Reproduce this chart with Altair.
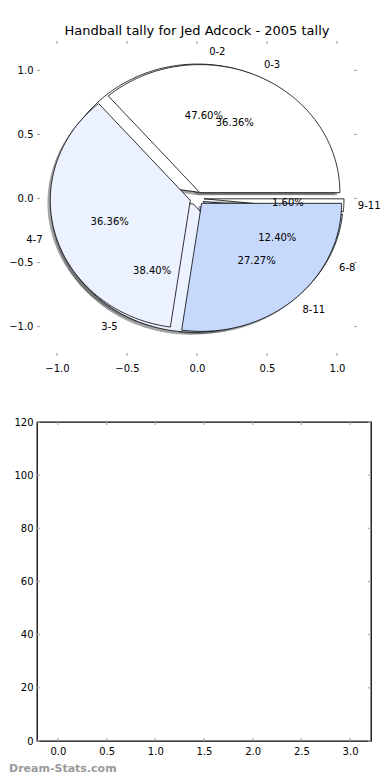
import numpy as np
import pandas as pd
import altair as alt

# ---------------- data ----------------
title_text = "Handball tally for Jed Adcock - 2005 tally"
pie1_labels = ["0-2", "3-5", "6-8", "9-11"]
pie1_values = [47.60, 38.40, 12.40, 1.60]
pie2_labels = ["0-3", "4-7", "8-11"]
pie2_values = [36.36, 36.36, 27.27]
pie_colors = ["#FFFFFF", "#EBF1FD", "#C6D9FD"]
pie_ticks = [-1.0, -0.5, 0.0, 0.5, 1.0]
bar_x_ticks = [0.0, 0.5, 1.0, 1.5, 2.0, 2.5, 3.0]
bar_y_ticks = [0, 20, 40, 60, 80, 100, 120]
watermark = "Dream-Stats.com"

EXPLODE = 0.05
SHADOW = -0.02
FONT = "DejaVu Sans"


def darken(hexc):
    h = hexc.lstrip("#")
    r, g, b = (int(h[i:i + 2], 16) for i in (0, 2, 4))
    return "#%02x%02x%02x" % (int(r * 0.3), int(g * 0.3), int(b * 0.3))


def build_pie(name, labels, values):
    vals = np.asarray(values, dtype=float)
    fr = vals / vals.sum()
    rows, shadows, texts = [], [], []
    t0 = 0.0
    for k, (lab, f) in enumerate(zip(labels, fr)):
        t1 = t0 + 360.0 * f
        tm = np.deg2rad((t0 + t1) / 2)
        cx, cy = EXPLODE * np.cos(tm), EXPLODE * np.sin(tm)
        col = pie_colors[k % len(pie_colors)]
        n = max(3, int((t1 - t0) / 1.0) + 2)
        ang = np.deg2rad(np.linspace(t0, t1, n))
        xs = np.concatenate([[cx], cx + np.cos(ang), [cx]])
        ys = np.concatenate([[cy], cy + np.sin(ang), [cy]])
        key = f"{name}-{k}"
        for i, (xx, yy) in enumerate(zip(xs, ys)):
            rows.append(dict(key=key, i=i, x=xx, y=yy, fillc=col))
            shadows.append(dict(key=key, i=i, x=xx + SHADOW, y=yy + SHADOW,
                                fillc=darken(col)))
        xt = cx + 1.1 * np.cos(tm)
        yt = cy + 1.1 * np.sin(tm)
        texts.append(dict(kind="label", text=lab, x=xt, y=yt,
                          side="left" if xt > 0 else "right"))
        texts.append(dict(kind="pct", text="%.2f%%" % (100 * f),
                          x=cx + 0.6 * np.cos(tm), y=cy + 0.6 * np.sin(tm),
                          side="center"))
        t0 = t1
    return pd.DataFrame(rows), pd.DataFrame(shadows), pd.DataFrame(texts)


w1, s1, t1 = build_pie("p1", pie1_labels, pie1_values)
w2, s2, t2 = build_pie("p2", pie2_labels, pie2_values)
shadows = pd.concat([s1, s2], ignore_index=True)
texts = pd.concat([t1, t2], ignore_index=True)

W1, H1 = 320, 315
W2, H2 = 334, 319
TICK = "#aaaaaa"
XH = W1 / 2 / 140.0  # keep 140 px per unit horizontally

xs = alt.Scale(domain=[-XH, XH], nice=False, zero=False)
ys = alt.Scale(domain=[-1.23, 1.23], nice=False, zero=False)
x_axis = alt.Axis(values=pie_ticks, format=".1f", ticks=False, domain=False,
                  grid=False, labelPadding=7, labelFont=FONT, labelFontSize=10,
                  labelColor="black", title=None)
y_axis = alt.Axis(values=pie_ticks, format=".1f", ticks=False, domain=False,
                  grid=False, labelPadding=4, labelFont=FONT, labelFontSize=10,
                  labelColor="black", title=None)


def wedges(df, with_stroke=True, opacity=1.0):
    if with_stroke:
        m = alt.Chart(df).mark_line(stroke="black", strokeWidth=0.8,
                                    fillOpacity=opacity, interpolate="linear")
    else:
        m = alt.Chart(df).mark_line(strokeWidth=0.0, fillOpacity=opacity,
                                    interpolate="linear")
    return m.encode(
        x=alt.X("x:Q", scale=xs, axis=x_axis),
        y=alt.Y("y:Q", scale=ys, axis=y_axis),
        fill=alt.Fill("fillc:N", scale=None),
        detail="key:N",
        order="i:Q",
    )


shadow_layer = wedges(shadows, with_stroke=False, opacity=0.5)
pie1_layer = wedges(w1)
pie2_layer = wedges(w2)

ptick = pd.DataFrame({"v": pie_ticks})
pt_top = alt.Chart(ptick).mark_rule(color=TICK, strokeWidth=1.2).encode(
    x=alt.X("v:Q", scale=xs), y=alt.value(0), y2=alt.value(3))
pt_bot = alt.Chart(ptick).mark_rule(color=TICK, strokeWidth=1.2).encode(
    x=alt.X("v:Q", scale=xs), y=alt.value(H1 - 3), y2=alt.value(H1))
pt_left = alt.Chart(ptick).mark_rule(color=TICK, strokeWidth=1.2).encode(
    y=alt.Y("v:Q", scale=ys), x=alt.value(0), x2=alt.value(3))
pt_right = alt.Chart(ptick).mark_rule(color=TICK, strokeWidth=1.2).encode(
    y=alt.Y("v:Q", scale=ys), x=alt.value(W1 - 3), x2=alt.value(W1))


def text_layer(side, align):
    return alt.Chart(texts).transform_filter(
        alt.datum.side == side
    ).mark_text(align=align, baseline="middle", font=FONT, fontSize=10,
                color="black").encode(
        x=alt.X("x:Q", scale=xs), y=alt.Y("y:Q", scale=ys), text="text:N")


top = alt.layer(
    shadow_layer, pie1_layer, pie2_layer,
    pt_top, pt_bot, pt_left, pt_right,
    text_layer("left", "left"), text_layer("right", "right"),
    text_layer("center", "center"),
).properties(
    width=W1, height=H1,
    title=alt.TitleParams(title_text, font=FONT, fontSize=13,
                          fontWeight="normal", color="black", offset=2),
    view=alt.ViewBackground(strokeWidth=0),
)

# ---------------- bottom empty axes ----------------
bxs = alt.Scale(domain=[-0.215, 3.215], nice=False, zero=False)
bys = alt.Scale(domain=[0, 120], nice=False)
bxt = pd.DataFrame({"v": bar_x_ticks})
byt = pd.DataFrame({"v": bar_y_ticks})

bx_axis = alt.Axis(values=bar_x_ticks, format=".1f", ticks=False, domain=False,
                   grid=False, labelPadding=5, labelFont=FONT, labelFontSize=10,
                   labelColor="black", title=None)
by_axis = alt.Axis(values=bar_y_ticks, format="d", ticks=False, domain=False,
                   grid=False, labelPadding=4, labelFont=FONT, labelFontSize=10,
                   labelColor="black", title=None)

bt_bot = alt.Chart(bxt).mark_rule(color=TICK, strokeWidth=1.2).encode(
    x=alt.X("v:Q", scale=bxs, axis=bx_axis), y=alt.value(H2 - 3), y2=alt.value(H2))
bt_top = alt.Chart(bxt).mark_rule(color=TICK, strokeWidth=1.2).encode(
    x=alt.X("v:Q", scale=bxs), y=alt.value(0), y2=alt.value(3))
bt_left = alt.Chart(byt).mark_rule(color=TICK, strokeWidth=1.2).encode(
    y=alt.Y("v:Q", scale=bys, axis=by_axis), x=alt.value(0), x2=alt.value(3))
bt_right = alt.Chart(byt).mark_rule(color=TICK, strokeWidth=1.2).encode(
    y=alt.Y("v:Q", scale=bys), x=alt.value(W2 - 3), x2=alt.value(W2))
wm = alt.Chart(pd.DataFrame({"t": [watermark]})).mark_text(
    align="left", baseline="middle", font=FONT, fontSize=11, fontWeight="bold",
    color="#9a9a9a").encode(x=alt.value(-28), y=alt.value(H2 + 28), text="t:N")

bottom = alt.layer(bt_bot, bt_top, bt_left, bt_right, wm).properties(
    width=W2, height=H2,
    view=alt.ViewBackground(stroke="black", strokeWidth=1.3),
)

chart = alt.vconcat(top, bottom, spacing=43).properties(
    padding={"left": 0, "top": 17, "right": 0, "bottom": 0}
).configure_view(strokeWidth=0)

chart.save("out.html", embed_options={"renderer": "svg", "actions": False})
